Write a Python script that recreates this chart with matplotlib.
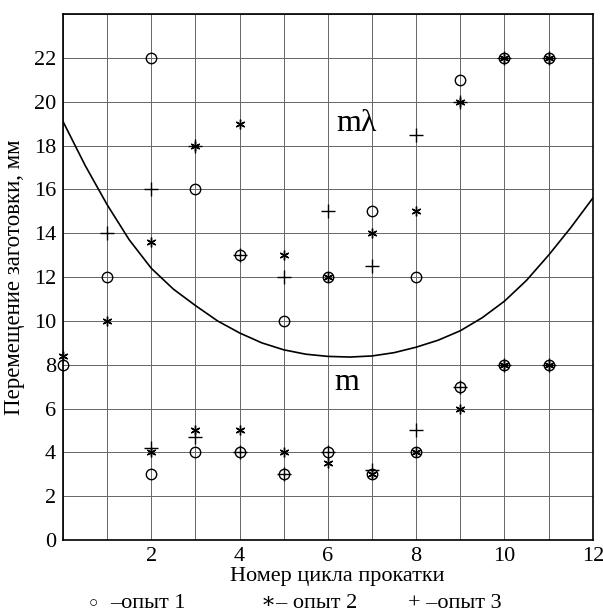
import matplotlib
matplotlib.use("Agg")
import matplotlib.pyplot as plt

plt.rcParams["font.family"] = ["Liberation Serif", "DejaVu Serif"]

# опыт 1 (circles)
x1 = [0, 1, 2, 2, 3, 3, 4, 4, 5, 5, 6, 6, 7, 7, 8, 8, 9, 9, 10, 10, 11, 11]
y1 = [8, 12, 22, 3, 16, 4, 13, 4, 10, 3, 12, 4, 15, 3, 12, 4, 21, 7, 22, 8, 22, 8]

# опыт 2 (asterisks)
x2 = [0, 1, 2, 2, 3, 3, 4, 4, 5, 5, 6, 6, 7, 7, 8, 8, 9, 9, 10, 10, 11, 11]
y2 = [8.4, 10, 13.6, 4, 18, 5, 19, 5, 13, 4, 12, 3.5, 14, 3, 15, 4, 20, 6, 22, 8, 22, 8]

# опыт 3 (plus)
x3 = [1, 2, 2, 3, 3, 4, 4, 5, 5, 6, 6, 7, 7, 8, 8, 9, 9, 10, 10, 11, 11]
y3 = [14, 16, 4.2, 18, 4.7, 13, 4, 12, 3, 15, 4, 12.5, 3.2, 18.5, 5, 20, 7, 22, 8, 22, 8]

# boundary curve between zones m and m*lambda
cx = [0, 0.5, 1, 1.5, 2, 2.5, 3, 3.5, 4, 4.5, 5, 5.5, 6, 6.5, 7, 7.5, 8, 8.5, 9, 9.5, 10, 10.5, 11, 11.5, 12]
cy = [19.1, 17.1, 15.3, 13.7, 12.4, 11.45, 10.7, 10.0, 9.45, 9.0, 8.68, 8.48, 8.38, 8.35, 8.4, 8.55, 8.8, 9.12, 9.55, 10.15, 10.9, 11.85, 13.0, 14.25, 15.6]

xticks = [2, 4, 6, 8, 10, 12]
yticks = [0, 2, 4, 6, 8, 10, 12, 14, 16, 18, 20, 22]

fig = plt.figure(figsize=(6.03, 6.14), dpi=100)
ax = fig.add_axes([0.1045, 0.1205, 0.8785, 0.8565])

ax.set_xlim(0, 12)
ax.set_ylim(0, 24)
ax.set_xticks(range(0, 13))
ax.set_yticks(range(0, 25, 2))
ax.grid(True, color="0.4", linewidth=0.7)
ax.set_xticklabels([str(v) if v in xticks else "" for v in range(0, 13)], fontsize=16)
ax.set_yticklabels([str(v) if v in yticks else "" for v in range(0, 25, 2)], fontsize=16)
ax.tick_params(length=0, pad=5)
for s in ax.spines.values():
    s.set_linewidth(1.2)

ax.plot(cx, cy, color="black", linewidth=1.2)

ax.plot(x1, y1, linestyle="none", marker="o", markersize=7.5, markerfacecolor="none",
        markeredgecolor="black", markeredgewidth=1.0, clip_on=False)
ax.plot(x2, y2, linestyle="none", marker=(6, 2, 0), markersize=7, color="black",
        markeredgewidth=1.0, clip_on=False)
ax.plot(x3, y3, linestyle="none", marker="+", markersize=10, color="black",
        markeredgewidth=1.0, clip_on=False)

ax.text(6.66, 19.0, "mλ", fontsize=23, ha="center", va="center")
ax.text(6.43, 7.2, "m", fontsize=23, ha="center", va="center")

ax.set_ylabel("Перемещение заготовки, мм", fontsize=16.5, labelpad=6)
fig.text(0.559, 0.0615, "Номер цикла прокатки", fontsize=16, ha="center", va="center")

fig.text(0.155, 0.0105, "○", fontsize=11, ha="center", va="baseline")
fig.text(0.182, 0.0105, "–опыт 1", fontsize=16, ha="left", va="baseline")
fig.text(0.433, 0.0105, "∗– опыт 2", fontsize=16, ha="left", va="baseline")
fig.text(0.676, 0.0105, "+ –опыт 3", fontsize=16, ha="left", va="baseline")

fig.savefig("out.png", dpi=100)
